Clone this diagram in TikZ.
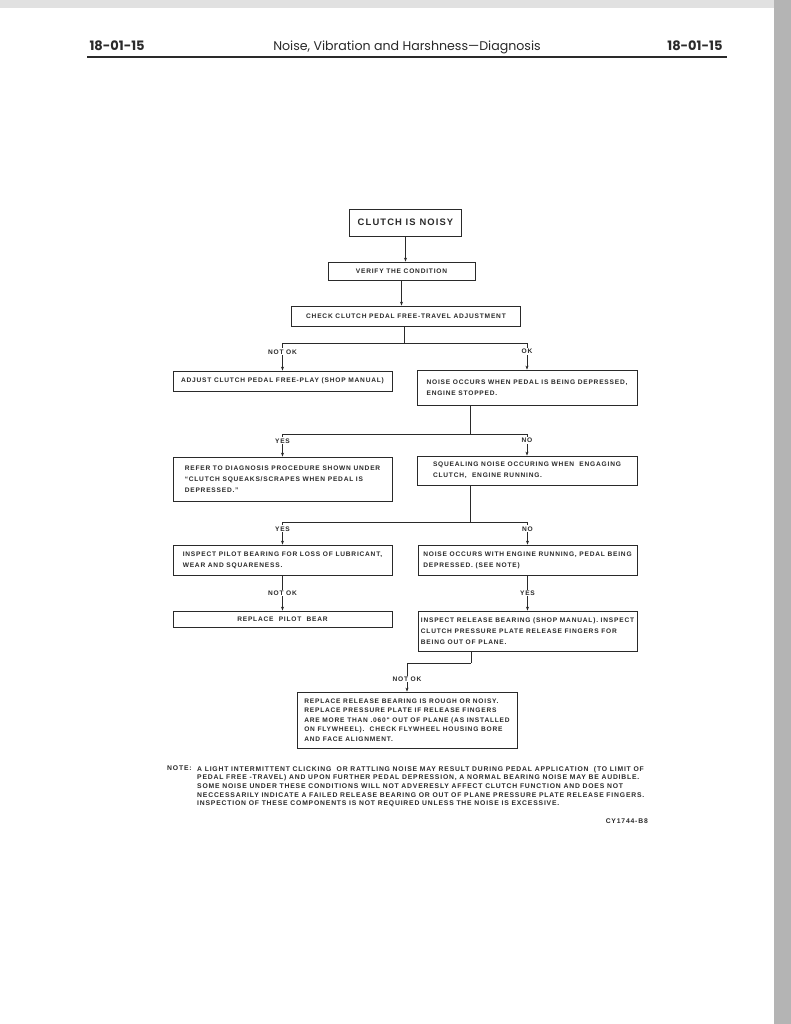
\documentclass[tikz,border=0pt]{standalone}
\usepackage{fontspec}
\usetikzlibrary{arrows.meta}
\newfontfamily\boxfam[LetterSpace=12]{Liberation Sans}
\newfontfamily\headfam{Poppins}
\definecolor{pagegray}{HTML}{B4B4B4}
\definecolor{inkgray}{HTML}{2A2A2A}
\newcommand\boxtext{\boxfam\bfseries\fontsize{6.6}{11}\selectfont}
\newcommand\notetext{\boxfam\bfseries\fontsize{6.8}{8.7}\selectfont}

\tikzset{
  titlebox/.style={draw, line width=0.8pt, font=\boxtext, inner sep=2pt},
  stepbox/.style={draw, line width=0.8pt, font=\boxtext, inner xsep=2pt, inner ysep=2pt, minimum width=219pt, align=left},
  answer/.style={font=\boxtext, fill=white, inner sep=1pt},
  trunk/.style={line width=0.8pt},
  flow/.style={trunk, -{Stealth[length=4pt,width=3pt]}},
}

\begin{document}
\begin{tikzpicture}[x=1pt,y=-1pt,color=inkgray]
  \fill[white] (0,0) rectangle (791,1024);
  \fill[pagegray!40] (0,0) rectangle (791,8);
  \fill[pagegray] (774,0) rectangle (791,1024);
  \useasboundingbox (0,0) rectangle (791,1024);

  \node[font=\headfam\bfseries\fontsize{13}{15}\selectfont, anchor=base west] (pageleft) at (86,51) {18-01-15};
  \node[font=\headfam\bfseries\fontsize{13}{15}\selectfont, anchor=base east] (pageright) at (726,51) {18-01-15};
  \node[font=\headfam\fontsize{12.6}{15}\selectfont, anchor=base] (pagetitle) at (407,51) {Noise, Vibration and Harshness—Diagnosis};
  \draw[line width=1.2pt] (87,57) -- (727,57);

  \node[titlebox, font=\boxfam\bfseries\fontsize{9.4}{12}\selectfont, minimum width=112pt, minimum height=27pt] (noisy) at (405.5,222.5) {CLUTCH IS NOISY};
  \node[titlebox, minimum width=147pt, minimum height=18pt] (verify) at (401.5,271) {VERIFY THE CONDITION};
  \node[titlebox, minimum width=229pt, minimum height=20pt] (check) at (406,316) {CHECK CLUTCH PEDAL FREE-TRAVEL ADJUSTMENT};

  \node[stepbox, minimum height=20pt] (adjust) at (282.5,381) {ADJUST CLUTCH PEDAL FREE-PLAY (SHOP MANUAL)};
  \node[stepbox, minimum width=220pt, minimum height=35pt] (stopped) at (527,387.5) {NOISE OCCURS WHEN PEDAL IS BEING DEPRESSED,\\ENGINE STOPPED.};
  \node[stepbox, minimum height=44pt] (refer) at (282.5,479) {REFER TO DIAGNOSIS PROCEDURE SHOWN UNDER\\“CLUTCH SQUEAKS/SCRAPES WHEN PEDAL IS\\DEPRESSED.”};
  \node[stepbox, minimum width=220pt, minimum height=29pt] (squeal) at (527,470.5) {SQUEALING NOISE OCCURING WHEN\ \ ENGAGING\\CLUTCH,\ \ ENGINE RUNNING.};
  \node[stepbox, minimum height=30pt] (pilot) at (282.5,560) {INSPECT PILOT BEARING FOR LOSS OF LUBRICANT,\\WEAR AND SQUARENESS.};
  \node[stepbox, minimum height=30pt] (running) at (527.5,560) {NOISE OCCURS WITH ENGINE RUNNING, PEDAL BEING\\DEPRESSED. (SEE NOTE)};
  \node[stepbox, align=center, minimum height=16pt] (pilotnew) at (282.5,619) {REPLACE\ \ PILOT\ \ BEAR};
  \node[stepbox, minimum height=40pt] (release) at (527.5,631) {INSPECT RELEASE BEARING (SHOP MANUAL).\ INSPECT\\CLUTCH PRESSURE PLATE RELEASE FINGERS\ FOR\\BEING OUT OF PLANE.};
  \node[stepbox, minimum width=220pt, font=\boxfam\bfseries\fontsize{6.6}{9.4}\selectfont, minimum height=56pt] (replace) at (407,720) {REPLACE RELEASE BEARING IS ROUGH OR NOISY.\\REPLACE PRESSURE PLATE IF RELEASE FINGERS\\ARE MORE THAN .060" OUT OF PLANE (AS INSTALLED\\ON FLYWHEEL).\ \ CHECK FLYWHEEL HOUSING BORE\\AND FACE ALIGNMENT.};

  \coordinate (split1) at (404,343);
  \coordinate (split2) at (470,434);
  \coordinate (split3) at (470,522);
  \coordinate (split4) at (471,663);

  \draw[flow] (noisy.south) -- (noisy.south |- verify.north);
  \draw[flow] (verify.south) -- (verify.south |- check.north);
  \draw[trunk] (check.south -| split1) -- (split1);
  \draw[flow] (split1) -| node[answer, pos=0.66] {NOT OK} (adjust.north);
  \draw[flow] (split1) -| node[answer, pos=0.66] {OK} (stopped.north);
  \draw[trunk] (stopped.south -| split2) -- (split2);
  \draw[flow] (split2) -| node[answer, pos=0.65] {YES} (refer.north);
  \draw[flow] (split2) -| node[answer, pos=0.65] {NO} (squeal.north);
  \draw[trunk] (squeal.south -| split3) -- (split3);
  \draw[flow] (split3) -| node[answer, pos=0.65] {YES} (pilot.north);
  \draw[flow] (split3) -| node[answer, pos=0.65] {NO} (running.north);
  \draw[flow] (pilot) -- node[answer] {NOT OK} (pilotnew);
  \draw[flow] (running) -- node[answer] {YES} (release);
  \draw[trunk] (release.south -| split4) -- (split4);
  \draw[flow] (split4) -| node[answer, pos=0.78] {NOT OK} (replace.north);

  \node[font=\notetext, anchor=north west, align=left, inner sep=0pt] (note) at (197,766) {A LIGHT INTERMITTENT CLICKING\ \ OR RATTLING NOISE MAY RESULT DURING PEDAL APPLICATION\ \ (TO LIMIT OF\\PEDAL FREE -TRAVEL) AND UPON FURTHER PEDAL DEPRESSION, A NORMAL BEARING NOISE MAY BE AUDIBLE.\\SOME NOISE UNDER THESE CONDITIONS WILL NOT ADVERESLY AFFECT CLUTCH FUNCTION AND DOES NOT\\NECCESSARILY INDICATE A FAILED RELEASE BEARING OR OUT OF PLANE PRESSURE PLATE RELEASE FINGERS.\\INSPECTION OF THESE COMPONENTS IS NOT REQUIRED UNLESS THE NOISE IS EXCESSIVE.};
  \node[font=\notetext, anchor=north west, inner sep=0pt] (notehead) at (note.north west -| 167,0) {NOTE:};
  \node[font=\notetext, anchor=east, inner sep=0pt] (figref) at (648,821) {CY1744-B8};
\end{tikzpicture}
\end{document}
